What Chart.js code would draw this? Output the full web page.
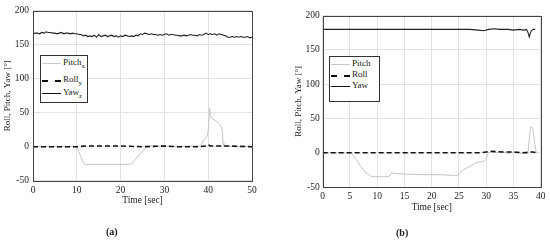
<!DOCTYPE html>
<html><head><meta charset="utf-8">
<script src="https://cdn.jsdelivr.net/npm/chart.js@4.4.0/dist/chart.umd.min.js"></script>
<style>
html,body{margin:0;padding:0;background:#fff;}
body{width:550px;height:240px;position:relative;overflow:hidden;font-family:"Liberation Serif",serif;color:#222;}
canvas{position:absolute;top:0;}
#ca{left:0;} #cb{left:275px;}
.leg{position:absolute;border:1px solid #333;background:#fff;font-size:9px;line-height:1;}
.row{position:absolute;left:0;height:10px;}
.smp{position:absolute;left:1px;width:19px;top:5px;height:0;}
.lt{position:absolute;white-space:nowrap;}
.lt sub{font-size:7px;vertical-align:-3px;}
.cap{position:absolute;font-weight:bold;font-size:10px;}
</style></head>
<body>
<canvas id="ca" width="275" height="240"></canvas>
<canvas id="cb" width="275" height="240"></canvas>

<div class="leg" style="left:40px;top:55px;width:46px;height:46px;">
  <div class="row" style="top:2px;"><div class="smp" style="border-top:1px solid #c8c8c8;"></div><div class="lt" style="left:22px;">Pitch<sub>x</sub></div></div>
  <div class="row" style="top:19px;"><div class="smp" style="border-top:2px dashed #111;"></div><div class="lt" style="left:22px;">Roll<sub>y</sub></div></div>
  <div class="row" style="top:32px;"><div class="smp" style="border-top:1px solid #111;"></div><div class="lt" style="left:22px;">Yaw<sub>z</sub></div></div>
</div>
<div class="leg" style="left:329px;top:56px;width:49px;height:44px;">
  <div class="row" style="top:2px;"><div class="smp" style="border-top:1px solid #c8c8c8;"></div><div class="lt" style="left:22px;">Pitch</div></div>
  <div class="row" style="top:13px;"><div class="smp" style="border-top:2px dashed #111;"></div><div class="lt" style="left:22px;">Roll</div></div>
  <div class="row" style="top:24px;"><div class="smp" style="border-top:1px solid #111;"></div><div class="lt" style="left:22px;">Yaw</div></div>
</div>
<div class="cap" style="left:106px;top:226px;">(a)</div>
<div class="cap" style="left:396px;top:227px;">(b)</div>

<script>
// ---------- data: chart (a) ----------
const yawA_t = [];
for (let i = 0; i <= 100; i++) yawA_t.push(i * 0.5);
const yawA_v = [166,167,167,166,168,167,169,168,168,167,167,166,167,168,166,167,167,166,167,166,
  166,165,165,163,164,162,163,162,164,161,165,162,163,164,162,163,164,162,163,161,
  163,162,164,163,162,163,162,164,163,166,165,167,166,165,166,165,165,164,165,164,
  165,166,164,165,165,164,164,163,163,164,163,164,165,164,164,163,165,164,165,167,
  165,166,165,166,164,166,165,164,163,161,161,162,161,162,161,162,161,161,162,160,161];
const pitchA_t = [0,2,4,6,8,9.5,10,10.5,11,11.5,12,15,18,21,22,22.5,23,24,25,25.8,26.5,28,30,32,34,36,38,38.3,38.8,39.3,39.8,40.1,40.3,40.5,40.8,41.5,42.2,42.8,43.2,43.4,43.6,44,46,48,50];
const pitchA_v = [0,0,0,0,0,0,-1,-8,-16,-24,-26,-26,-26,-26,-26,-25,-22,-14,-7,-1,1,1,1,0,0,1,1,1,8,12,16,30,57,46,42,39,36,32,25,5,1,1,0,0,0];
const rollA_t = [0,5,10,12,15,20,25,30,33,35,38,39.5,40,40.5,41,45,50];
const rollA_v = [0,0,0,1,1,1,0,1,0,0,0,1,3,1,1,1,0];
const ticksA_y = [-50,0,50,100,150,200];
const ticksA_x = [0,10,20,30,40,50];

// ---------- data: chart (b) ----------
const yawB_t = [0,5,10,15,20,25,27,28.5,29.5,30.5,31.5,32.5,34,35,36,37,37.4,37.7,37.9,38.2,38.6,39];
const yawB_v = [180,180,180,180,180,180,180,179,178,180,181,180,180,179,180,179,180,175,169,177,180,180];
const pitchB_t = [0,5.2,6,7,8,9,10,11,12,12.3,12.6,13,15,18,21,24,24.6,25.2,25.8,27,28.2,29.5,30,30.4,31,31.5,32,33,34,35,36,36.5,37,37.5,37.7,37.9,38.1,38.3,38.6,38.9,39.2];
const pitchB_v = [0,0,-8,-20,-30,-35,-35,-35,-35,-34,-29,-30,-31,-32,-32,-33,-34,-29,-25,-20,-14,-13,-8,0,2,1,0,1,-1,1,0,-1,0,-1,2,20,35,38,33,15,-1];
const rollB_t = [0,5,10,15,20,25,29,30,31,33,35,37,38,38.5,39.2];
const rollB_v = [0,0,0,0,0,0,0,1,2,1,1,0,1,1,0];
const ticksB_y = [-50,0,50,100,150,200];
const ticksB_x = [0,5,10,15,20,25,30,35,40];

const zip = (t, v) => t.map((x, i) => ({x: x, y: v[i]}));

const boxPlugin = {
  id: 'box',
  afterDraw(chart) {
    const a = chart.chartArea, c = chart.ctx;
    c.save(); c.strokeStyle = '#444'; c.lineWidth = 1;
    c.strokeRect(Math.round(a.left) + 0.5, Math.round(a.top) + 0.5, Math.round(a.right - a.left), Math.round(a.bottom - a.top));
    c.restore();
  }
};

function make(id, d, opt) {
  const font = {family: 'Liberation Serif', size: 9.5};
  return new Chart(document.getElementById(id), {
    type: 'line',
    data: {datasets: [
      {data: zip(d.rt, d.rv), borderColor: '#111', borderWidth: 1.6, borderDash: [5, 3]},
      {data: zip(d.yt, d.yv), borderColor: '#222', borderWidth: 1.1},
      {data: zip(d.pt, d.pv), borderColor: '#c4c4c4', borderWidth: 1}
    ]},
    options: {
      responsive: false, animation: false,
      parsing: false,
      elements: {point: {radius: 0}, line: {tension: 0}},
      plugins: {legend: {display: false}, tooltip: {enabled: false}},
      layout: {padding: opt.pad},
      scales: {
        x: {
          type: 'linear', min: d.xt[0], max: d.xt[d.xt.length - 1],
          afterBuildTicks: s => { s.ticks = d.xt.map(v => ({value: v})); },
          afterFit: s => { s.height = opt.xh; },
          grid: {color: '#e2e2e2', drawTicks: false},
          border: {display: false},
          ticks: {font: font, color: '#222', padding: 4, maxRotation: 0},
          title: {display: true, text: 'Time [sec]', font: {family: 'Liberation Serif', size: 9.5}, color: '#222', padding: 0}
        },
        y: {
          type: 'linear', min: -50, max: 200,
          afterBuildTicks: s => { s.ticks = d.yt_.map(v => ({value: v})); },
          afterFit: s => { s.width = opt.yw; },
          grid: {color: '#e2e2e2', drawTicks: false},
          border: {display: false},
          ticks: {font: font, color: '#222', padding: opt.typ},
          title: {display: true, text: 'Roll, Pitch, Yaw [°]', font: {family: 'Liberation Serif', size: 9}, color: '#222', padding: 0}
        }
      }
    },
    plugins: [boxPlugin]
  });
}

make('ca', {rt: rollA_t, rv: rollA_v, yt: yawA_t, yv: yawA_v, pt: pitchA_t, pv: pitchA_v, xt: ticksA_x, yt_: ticksA_y},
  {pad: {top: 10.7, right: 23, left: 2, bottom: 34.3}, xh: 25, yw: 31, typ: 4});
make('cb', {rt: rollB_t, rv: rollB_v, yt: yawB_t, yv: yawB_v, pt: pitchB_t, pv: pitchB_v, xt: ticksB_x, yt_: ticksB_y},
  {pad: {top: 15.7, right: 9.3, left: 18.6, bottom: 26.6}, xh: 26.4, yw: 29.1, typ: 3});
</script>
</body></html>
